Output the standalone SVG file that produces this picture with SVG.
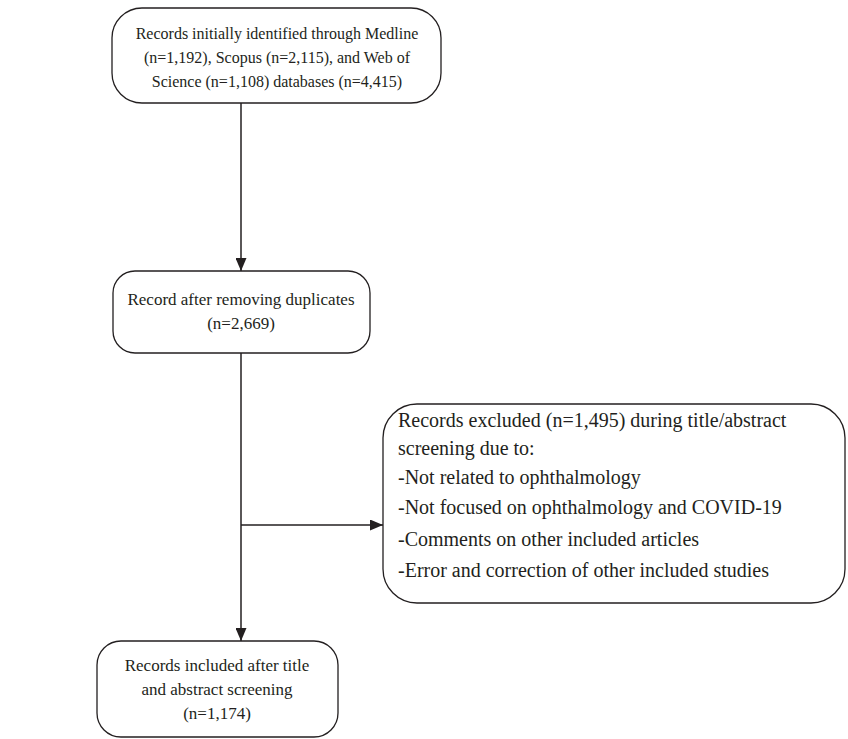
<svg xmlns="http://www.w3.org/2000/svg" width="848" height="739" viewBox="0 0 848 739">
<defs>
<style>
.box{fill:#fff;stroke:#231f20;stroke-width:1.3}
.t{font-family:"Liberation Serif",serif;font-size:17px;fill:#231f20}
.s{font-size:16px}
.b{font-size:20px}
.c{text-anchor:middle}
.ln{stroke:#231f20;stroke-width:1.5;fill:none}
</style>
<marker id="ah" markerWidth="13" markerHeight="11" refX="13" refY="5.5" orient="auto" markerUnits="userSpaceOnUse">
<path d="M0,0 L13,5.5 L0,11 z" fill="#231f20"/>
</marker>
</defs>
<rect width="848" height="739" fill="#fff"/>
<g id="connectors">
<line class="ln" x1="241" y1="103" x2="241" y2="271" marker-end="url(#ah)"/>
<line class="ln" x1="241" y1="353" x2="241" y2="641" marker-end="url(#ah)"/>
<line class="ln" x1="241" y1="525" x2="383" y2="525" marker-end="url(#ah)"/>
</g>
<g id="identified">
<rect class="box" x="112" y="8" width="329" height="95" rx="30"/>
<text class="t s c" x="277" y="39">Records initially identified through Medline</text>
<text class="t s c" x="277" y="63">(n=1,192), Scopus (n=2,115), and Web of</text>
<text class="t s c" x="277" y="87">Science (n=1,108) databases (n=4,415)</text>
</g>
<g id="deduplicated">
<rect class="box" x="113" y="271" width="257" height="82" rx="22"/>
<text class="t c" x="241" y="305">Record after removing duplicates</text>
<text class="t c" x="241" y="329">(n=2,669)</text>
</g>
<g id="excluded">
<rect class="box" x="383" y="404" width="462" height="199" rx="34"/>
<text class="t b" x="398" y="427">Records excluded (n=1,495) during title/abstract</text>
<text class="t b" x="398" y="455">screening due to:</text>
<text class="t b" x="398" y="484">-Not related to ophthalmology</text>
<text class="t b" x="398" y="514">-Not focused on ophthalmology and COVID-19</text>
<text class="t b" x="398" y="546">-Comments on other included articles</text>
<text class="t b" x="398" y="577">-Error and correction of other included studies</text>
</g>
<g id="included">
<rect class="box" x="97" y="641" width="241" height="96" rx="24"/>
<text class="t c" x="217" y="671">Records included after title</text>
<text class="t c" x="217" y="695">and abstract screening</text>
<text class="t c" x="217" y="719">(n=1,174)</text>
</g>
</svg>
